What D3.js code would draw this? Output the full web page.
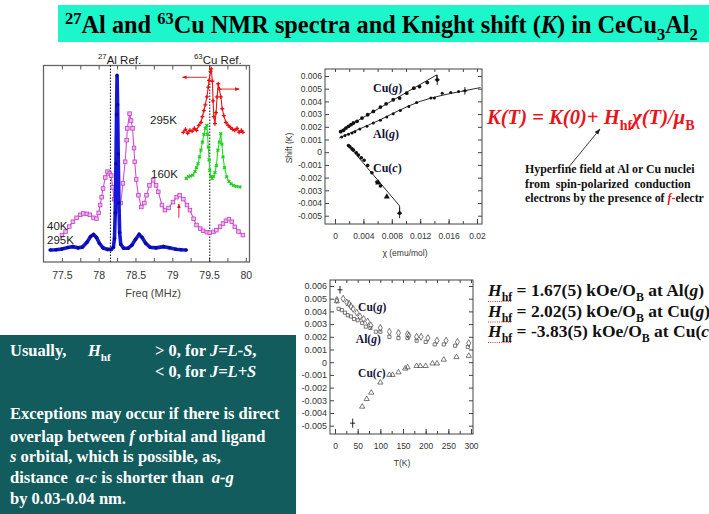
<!DOCTYPE html>
<html lang="en">
<head>
<meta charset="UTF-8">
<title>NMR CeCu3Al2</title>
<script src="https://d3js.org/d3.v7.min.js"></script>
<style>
  body { margin: 0; background: #fff; }
  svg { display: block; }
  text { white-space: pre; }
</style>
</head>
<body>
<svg width="709" height="514"></svg>
<script>
// ---------- data : NMR spectra (freq MHz, intensity a.u. 0..100 of panel) ----------
var freqTicks = [77.5, 78, 78.5, 79, 79.5, 80];
var freqMinor = [77.5, 77.75, 78, 78.25, 78.5, 78.75, 79, 79.25, 79.5, 79.75, 80];
var refLines = [78.16, 79.51];

var al295 = [[77.34,6.1],[77.42,6.2],[77.5,6.6],[77.58,7.4],[77.65,7.8],[77.72,7.2],[77.78,7.6],[77.84,10],[77.89,13],
  [77.93,14],[77.97,12.5],[78.01,9.5],[78.06,7.2],[78.12,6.4],[78.17,6.4],[78.2,7.5],[78.215,12],[78.225,25],[78.235,50],
  [78.243,75],[78.25,95],[78.257,80],[78.265,55],[78.275,30],[78.285,15],[78.3,9],[78.34,7],[78.4,7],[78.45,8.5],
  [78.5,11.5],[78.55,14],[78.59,12.5],[78.64,9.5],[78.7,7.5],[78.78,7.2],[78.88,7.8],[78.96,7.2],[79.05,6.5],[79.12,6.2],[79.19,6.1]];

var al40 = [[77.5,13.7],[77.55,15.5],[77.6,18],[77.65,20.5],[77.7,22.5],[77.75,24],[77.79,24.7],[77.84,24.5],[77.88,24],
  [77.93,22.5],[77.97,22],[78.0,25],[78.02,29],[78.04,33],[78.06,37.4],[78.09,43],[78.12,46],[78.15,45],[78.17,44],
  [78.19,38],[78.21,32],[78.24,27],[78.27,26],[78.3,30],[78.33,40],[78.36,51],[78.38,62],[78.39,68],[78.42,75.5],
  [78.44,72],[78.46,68],[78.48,58],[78.49,51],[78.51,42],[78.54,34],[78.58,28],[78.62,30],[78.65,34],[78.69,39],
  [78.74,41.6],[78.78,39],[78.81,35.7],[78.86,29],[78.9,26.4],[78.95,27.5],[79.01,30.5],[79.06,33],[79.1,34],
  [79.15,32],[79.2,29],[79.24,26.4],[79.29,22],[79.33,18.8],[79.38,17],[79.42,15.9],[79.47,15.2],[79.51,14.9],
  [79.56,15.3],[79.6,16.2],[79.65,18],[79.69,19.6],[79.73,21],[79.77,21.8],[79.81,20.5],[79.85,17.9],[79.9,15.5],[79.96,13.7]];

var cu295 = [[79.15,66],[79.18,67.5],[79.21,65.5],[79.24,67],[79.27,66.5],[79.3,68],[79.33,67],[79.36,69.5],[79.39,71],
  [79.41,74],[79.43,77],[79.45,80],[79.47,84],[79.49,89],[79.5,92.4],[79.52,97],[79.53,98.3],[79.545,92],[79.555,82],
  [79.565,74],[79.58,70.4],[79.595,76],[79.61,84],[79.625,90.7],[79.64,88],[79.66,84],[79.68,78],[79.7,74.5],[79.73,71],
  [79.76,69.5],[79.79,68.5],[79.82,67.5],[79.85,67],[79.88,68],[79.91,66],[79.94,67],[79.96,66]];

var cu160 = [[79.19,42.5],[79.22,43.5],[79.25,43.8],[79.28,44.2],[79.31,46],[79.33,48],[79.35,50],[79.37,53.5],[79.39,57],
  [79.41,61],[79.43,65],[79.45,68],[79.47,69.5],[79.48,65],[79.49,58.5],[79.5,52],[79.51,46.7],[79.525,43.5],[79.54,42.5],
  [79.56,43.5],[79.58,45.5],[79.6,49],[79.62,56.9],[79.64,61],[79.66,65.3],[79.675,60],[79.69,53.5],[79.71,48],
  [79.74,43.3],[79.77,41],[79.8,39.8],[79.83,39],[79.87,38.5],[79.92,38.2]];

// ---------- data : Knight shift vs chi ----------
var chiTicks = [0, 0.004, 0.008, 0.012, 0.016, 0.02];
var chiMinor = [0, 0.002, 0.004, 0.006, 0.008, 0.01, 0.012, 0.014, 0.016, 0.018, 0.02];
var shiftTicks = [-0.005, -0.004, -0.003, -0.002, -0.001, 0, 0.001, 0.002, 0.003, 0.004, 0.005, 0.006];

var cuGchi = [[0.0008,0.00162],[0.0012,0.00172],[0.00155,0.0019],[0.0019,0.00204],[0.00226,0.00217],[0.0026,0.0023],
  [0.0031,0.00243],[0.0038,0.00269],[0.0046,0.00295],[0.0054,0.00321],[0.0064,0.00355],[0.0072,0.00381],[0.0082,0.00413],
  [0.0091,0.00426],[0.0101,0.00465],[0.0111,0.00504],[0.0119,0.00517],[0.013,0.00548],[0.0144,0.0057]];
var cuGfit = [[0.0006,0.00164],[0.0143,0.00608],[0.0144,0.0057]];

var alGchi = [[0.00094,0.0012],[0.0014,0.00131],[0.0019,0.00141],[0.0024,0.00151],[0.0028,0.00162],[0.0035,0.00183],
  [0.0045,0.00204],[0.0054,0.0023],[0.0064,0.00251],[0.0073,0.00277],[0.0082,0.00303],[0.0092,0.00329],[0.0104,0.0036],
  [0.0115,0.00392],[0.0135,0.00426],[0.014,0.00426],[0.0151,0.00465],[0.0163,0.0047],[0.0174,0.00478],[0.0183,0.00483]];
var alGfit = [[0.0006,0.00112],[0.003,0.00172],[0.0064,0.00256],[0.0092,0.00334],[0.012,0.004],[0.0148,0.00444],
  [0.0177,0.00478],[0.0205,0.00509]];

var cuCchi = [[0.0019,0.00052],[0.0021,0.00042],[0.0024,0.00026],[0.0026,0.00016],[0.003,-0.00005],[0.0033,-0.00023],
  [0.0037,-0.00044],[0.0041,-0.00063],[0.0046,-0.00104],[0.0052,-0.00162],[0.0059,-0.00235],[0.0064,-0.00266],[0.0091,-0.0048]];
var cuCtri = [[0.0061,-0.0024],[0.0073,-0.0035]];
var cuCfit = [[0.0019,0.00052],[0.0091,-0.00423],[0.0091,-0.0048]];
var chiErr = [[0.0144,0.0057,0.0004],[0.0183,0.00483,0.0003],[0.0091,-0.0048,0.0004]];

// ---------- data : Knight shift vs T ----------
var tTicks = [0, 50, 100, 150, 200, 250, 300];
var tMinor = [0, 25, 50, 75, 100, 125, 150, 175, 200, 225, 250, 275, 300];

var cuGt = [[4,0.0049],[18,0.005],[26,0.0047],[31,0.0046],[35,0.0044],[40,0.0042],[48,0.0039],[55,0.0036],[63,0.0034],
  [72,0.0032],[79,0.0029],[100,0.0027],[120,0.0024],[140,0.0023],[160,0.0022],[163,0.0021],[180,0.002],[190,0.002],
  [205,0.0019],[225,0.0017],[245,0.0017],[270,0.0016],[295,0.0015]];
var alGt = [[8,0.0042],[15,0.0041],[22,0.0039],[28,0.0037],[35,0.0036],[42,0.0034],[50,0.0033],[60,0.0031],[68,0.0028],
  [78,0.0027],[90,0.0024],[100,0.0024],[120,0.002],[140,0.0019],[160,0.0019],[180,0.0017],[200,0.0016],[220,0.0014],
  [240,0.0014],[265,0.0013],[293,0.0012]];
var cuCt = [[4,0.0048],[60,-0.0035],[70,-0.0029],[80,-0.0024],[100,-0.0016],[120,-0.001],[127,-0.001],[140,-0.0008],
  [155,-0.0005],[160,-0.0004],[180,-0.0003],[188,-0.0003],[200,-0.0003],[215,-0.0001],[225,-0.0001],[240,0.0002],
  [268,0.0004],[295,0.0005]];
var tErr = [[11,0.0057,0.0003],[39,-0.0048,0.00036]];

// ---------- helpers ----------
var svg = d3.select('svg');
var SANS = 'Liberation Sans, Arial, sans-serif';
var SERIF = 'Liberation Serif, Times New Roman, serif';

// text made of pieces: strings or {t, sub, sup, it, fill, x}
function rich(parent, x, y, parts, o) {
  var t = parent.append('text').attr('x', x).attr('y', y)
    .attr('font-family', o.family).attr('font-size', o.size)
    .attr('font-weight', o.weight || 'normal').attr('fill', o.fill || '#000');
  if (o.italic) t.attr('font-style', 'italic');
  var shift = 0;
  parts.forEach(function (p) {
    if (typeof p === 'string') p = { t: p };
    var target = p.sub ? o.size * 0.3 : (p.sup ? -o.size * 0.38 : 0);
    var ts = t.append('tspan').text(p.t);
    if (target - shift !== 0) ts.attr('dy', target - shift);
    shift = target;
    if (p.sub || p.sup) ts.attr('font-size', o.size * 0.68);
    if (p.it) ts.attr('font-style', 'italic');
    if (p.up) ts.attr('font-style', 'normal');
    if (p.fill) ts.attr('fill', p.fill);
    if (p.x != null) ts.attr('x', p.x);
  });
  return t;
}

function frame(g, x0, y0, x1, y1, col, w) {
  g.append('rect').attr('x', x0).attr('y', y0).attr('width', x1 - x0).attr('height', y1 - y0)
    .attr('fill', 'none').attr('stroke', col).attr('stroke-width', w);
}

var defs = svg.append('defs');
defs.append('marker').attr('id', 'redArrow').attr('viewBox', '0 0 10 10').attr('refX', 9).attr('refY', 5)
  .attr('markerWidth', 5).attr('markerHeight', 5).attr('orient', 'auto')
  .append('path').attr('d', 'M0,1 L10,5 L0,9 z').attr('fill', '#e01010');
defs.append('marker').attr('id', 'blkArrow').attr('viewBox', '0 0 10 10').attr('refX', 9).attr('refY', 5)
  .attr('markerWidth', 7).attr('markerHeight', 7).attr('orient', 'auto')
  .append('path').attr('d', 'M0,1.5 L10,5 L0,8.5 z').attr('fill', '#222');

// ---------- title ----------
svg.append('rect').attr('x', 58).attr('y', 5).attr('width', 651).attr('height', 37).attr('fill', '#1df5cb');
rich(svg, 65, 33, [{ t: '27', sup: true }, 'Al and ', { t: '63', sup: true }, 'Cu NMR spectra and Knight shift (',
  { t: 'K', it: true }, ') in CeCu', { t: '3', sub: true }, 'Al', { t: '2', sub: true }],
  { family: SERIF, size: 24.3, weight: 'bold' });

// ---------- left panel: spectra ----------
var L = { x0: 43.5, x1: 249.5, y0: 65.5, y1: 262 };
var xF = d3.scaleLinear().domain([77.25, 80.05]).range([L.x0, L.x1]);
var yI = d3.scaleLinear().domain([0, 100]).range([L.y1, L.y0]);
var gL = svg.append('g');

gL.append('g').attr('transform', 'translate(0,' + L.y1 + ')')
  .call(d3.axisBottom(xF).tickValues(freqMinor).tickSize(-4).tickFormat(''))
  .call(function (a) { a.select('.domain').remove(); a.selectAll('line').attr('stroke', '#555'); });
gL.append('g').attr('transform', 'translate(0,' + L.y0 + ')')
  .call(d3.axisTop(xF).tickValues(freqMinor).tickSize(-4).tickFormat(''))
  .call(function (a) { a.select('.domain').remove(); a.selectAll('line').attr('stroke', '#555'); });
gL.append('g').attr('transform', 'translate(0,' + L.y1 + ')')
  .call(d3.axisBottom(xF).tickValues(freqTicks).tickSize(0).tickPadding(10).tickFormat(d3.format('')))
  .call(function (a) {
    a.select('.domain').remove();
    a.selectAll('text').attr('font-family', SANS).attr('font-size', 10.5).attr('fill', '#333');
  });
frame(gL, L.x0, L.y0, L.x1, L.y1, '#666', 1.3);
gL.append('text').attr('x', 153).attr('y', 297).attr('text-anchor', 'middle')
  .attr('font-family', SANS).attr('font-size', 11).attr('fill', '#444').text('Freq (MHz)');

gL.selectAll('.ref').data(refLines).enter().append('line')
  .attr('x1', function (d) { return xF(d); }).attr('x2', function (d) { return xF(d); })
  .attr('y1', L.y0).attr('y2', L.y1).attr('stroke', '#222').attr('stroke-width', 1.1).attr('stroke-dasharray', '1.5,1.5');

var line = d3.line().x(function (d) { return xF(d[0]); }).y(function (d) { return yI(d[1]); });

// magenta 40K Al
gL.append('path').datum(al40).attr('d', line).attr('fill', 'none').attr('stroke', '#d050d0').attr('stroke-width', 1.1);
gL.selectAll('.msq').data(al40).enter().append('rect')
  .attr('x', function (d) { return xF(d[0]) - 1.8; }).attr('y', function (d) { return yI(d[1]) - 1.8; })
  .attr('width', 3.6).attr('height', 3.6).attr('fill', '#f0b8f0').attr('stroke', '#c040c0').attr('stroke-width', 0.8);

// blue 295K Al
gL.append('path').datum(al295).attr('d', line).attr('fill', 'none').attr('stroke', '#1616d6').attr('stroke-width', 3.6);
gL.selectAll('.bdot').data(al295).enter().append('circle')
  .attr('cx', function (d) { return xF(d[0]); }).attr('cy', function (d) { return yI(d[1]); })
  .attr('r', 1.8).attr('fill', '#0a0aa0');

// red 295K Cu
gL.append('path').datum(cu295).attr('d', line).attr('fill', 'none').attr('stroke', '#e81212').attr('stroke-width', 1.1);
gL.selectAll('.rp').data(cu295).enter().append('path')
  .attr('transform', function (d) { return 'translate(' + xF(d[0]) + ',' + yI(d[1]) + ')'; })
  .attr('d', d3.symbol().type(d3.symbolCross).size(9)).attr('fill', '#e81212');

// green 160K Cu
gL.append('path').datum(cu160).attr('d', line).attr('fill', 'none').attr('stroke', '#22dd22').attr('stroke-width', 1.1);
gL.selectAll('.gp').data(cu160).enter().append('path')
  .attr('transform', function (d) { return 'translate(' + xF(d[0]) + ',' + yI(d[1]) + ') rotate(45)'; })
  .attr('d', d3.symbol().type(d3.symbolCross).size(9)).attr('fill', '#1fcf1f');

// arrows
function arrow(g, a, b, id, w) {
  g.append('line').attr('x1', a[0]).attr('y1', a[1]).attr('x2', b[0]).attr('y2', b[1])
    .attr('stroke', id === 'redArrow' ? '#e01010' : '#222').attr('stroke-width', w)
    .attr('marker-end', 'url(#' + id + ')');
}
arrow(gL, [xF(79.47), yI(94)], [xF(79.14), yI(94)], 'redArrow', 0.9);
arrow(gL, [xF(79.65), yI(88)], [xF(79.91), yI(88)], 'redArrow', 0.9);
arrow(gL, [xF(79.09), yI(22.5)], [xF(79.09), yI(29.5)], 'redArrow', 0.9);

// labels
var lab = { family: SANS, size: 11.5, fill: '#222' };
rich(gL, 98, 63.5, [{ t: '27', sup: true }, 'Al Ref.'], lab);
rich(gL, 194, 63.5, [{ t: '63', sup: true }, 'Cu Ref.'], lab);
rich(gL, 150, 124, ['295K'], lab);
rich(gL, 151, 178, ['160K'], lab);
rich(gL, 47, 230, ['40K'], lab);
rich(gL, 47, 244, ['295K'], lab);

// ---------- generic small frame plot ----------
function panel(box, xs, ys, xTicksMaj, xTicksMin, yTicks, yFont) {
  var g = svg.append('g');
  var tickStyle = function (a) { a.select('.domain').remove(); a.selectAll('line').attr('stroke', '#444'); };
  g.append('g').attr('transform', 'translate(0,' + box.y1 + ')')
    .call(d3.axisBottom(xs).tickValues(xTicksMin).tickSize(-3).tickFormat('')).call(tickStyle);
  g.append('g').attr('transform', 'translate(0,' + box.y0 + ')')
    .call(d3.axisTop(xs).tickValues(xTicksMin).tickSize(-3).tickFormat('')).call(tickStyle);
  g.append('g').attr('transform', 'translate(0,' + box.y1 + ')')
    .call(d3.axisBottom(xs).tickValues(xTicksMaj).tickSize(-5).tickPadding(9)
      .tickFormat(function (d) { return String(+d.toFixed(3)); }))
    .call(tickStyle)
    .call(function (a) { a.selectAll('text').attr('font-family', SANS).attr('font-size', 8.5).attr('fill', '#333'); });
  g.append('g').attr('transform', 'translate(' + box.x0 + ',0)')
    .call(d3.axisLeft(ys).tickValues(yTicks).tickSize(-4).tickPadding(box.pad)
      .tickFormat(function (d) { return String(+d.toFixed(3)); }))
    .call(tickStyle)
    .call(function (a) { a.selectAll('text').attr('font-family', SANS).attr('font-size', yFont).attr('fill', '#333'); });
  g.append('g').attr('transform', 'translate(' + box.x1 + ',0)')
    .call(d3.axisRight(ys).tickValues(yTicks).tickSize(-4).tickFormat('')).call(tickStyle);
  frame(g, box.x0, box.y0, box.x1, box.y1, '#444', 1);
  return g;
}

// ---------- upper right: K vs chi ----------
var U = { x0: 325, x1: 482, y0: 69, y1: 224, pad: 3 };
var xC = d3.scaleLinear().domain([0, 0.02]).range([335, 477]);
var yK = d3.scaleLinear().domain([-0.005, 0.006]).range([215.7, 76]);
var gU = panel(U, xC, yK, chiTicks, chiMinor, shiftTicks, 8.5);

var lineC = d3.line().x(function (d) { return xC(d[0]); }).y(function (d) { return yK(d[1]); });
[cuGfit, cuCfit].forEach(function (f) {
  gU.append('path').datum(f).attr('d', lineC).attr('fill', 'none').attr('stroke', '#111').attr('stroke-width', 0.9);
});
gU.append('path').datum(alGfit).attr('d', lineC.curve(d3.curveMonotoneX)).attr('fill', 'none')
  .attr('stroke', '#111').attr('stroke-width', 0.9);
lineC.curve(d3.curveLinear);

function dots(g, data, xs, ys, r) {
  g.append('g').selectAll('circle').data(data).enter().append('circle')
    .attr('cx', function (d) { return xs(d[0]); }).attr('cy', function (d) { return ys(d[1]); })
    .attr('r', r).attr('fill', '#111');
}
dots(gU, cuGchi, xC, yK, 1.9);
dots(gU, alGchi, xC, yK, 1.5);
dots(gU, cuCchi, xC, yK, 1.8);
gU.append('g').selectAll('path').data(cuCtri).enter().append('path')
  .attr('transform', function (d) { return 'translate(' + xC(d[0]) + ',' + yK(d[1]) + ')'; })
  .attr('d', d3.symbol().type(d3.symbolTriangle).size(16)).attr('fill', '#111');

function errs(g, data, xs, ys) {
  data.forEach(function (e) {
    var x = xs(e[0]);
    g.append('line').attr('x1', x).attr('x2', x).attr('y1', ys(e[1] - e[2])).attr('y2', ys(e[1] + e[2]))
      .attr('stroke', '#111').attr('stroke-width', 0.9);
    g.append('line').attr('x1', x - 2.5).attr('x2', x + 2.5).attr('y1', ys(e[1])).attr('y2', ys(e[1]))
      .attr('stroke', '#111').attr('stroke-width', 0.9);
  });
}
errs(gU, chiErr, xC, yK);

gU.append('text').attr('transform', 'translate(292,148) rotate(-90)').attr('text-anchor', 'middle')
  .attr('font-family', SANS).attr('font-size', 8.5).attr('fill', '#333').text('Shift (K)');
gU.append('text').attr('x', 405).attr('y', 256).attr('text-anchor', 'middle')
  .attr('font-family', SANS).attr('font-size', 8.5).attr('fill', '#333').text('\u03c7 (emu/mol)');

var serLab = { family: SERIF, size: 12, weight: 'bold', fill: '#141438' };
rich(gU, xC(0.00535), yK(0.00475), ['Cu(', { t: 'g', it: true }, ')'], serLab);
rich(gU, xC(0.00535), yK(0.00115), ['Al(', { t: 'g', it: true }, ')'], serLab);
rich(gU, xC(0.00535), yK(-0.00159), ['Cu(', { t: 'c', it: true }, ')'], serLab);

// ---------- lower right: K vs T ----------
var B = { x0: 330, x1: 473, y0: 280, y1: 434, pad: 3 };
var xT = d3.scaleLinear().domain([0, 300]).range([335, 471]);
var yK2 = d3.scaleLinear().domain([-0.005, 0.006]).range([425.7, 286]);
var gB = panel(B, xT, yK2, tTicks, tMinor, shiftTicks, 9);

function open(g, data, type, size) {
  g.append('g').selectAll('path').data(data).enter().append('path')
    .attr('transform', function (d) { return 'translate(' + xT(d[0]) + ',' + yK2(d[1]) + ')'; })
    .attr('d', d3.symbol().type(type).size(size)).attr('fill', 'none')
    .attr('stroke', '#555').attr('stroke-width', 0.8);
}
open(gB, cuGt, d3.symbolDiamond, 14);
open(gB, alGt, d3.symbolSquare, 10);
open(gB, cuCt, d3.symbolTriangle, 12);
errs(gB, tErr, xT, yK2);

gB.append('text').attr('x', 402).attr('y', 466).attr('text-anchor', 'middle')
  .attr('font-family', SANS).attr('font-size', 8.5).attr('fill', '#333').text('T(K)');
var serLab2 = { family: SERIF, size: 11.5, weight: 'bold', fill: '#141438' };
rich(gB, xT(51), yK2(0.004), ['Cu(', { t: 'g', it: true }, ')'], serLab2);
rich(gB, xT(46), yK2(0.00155), ['Al(', { t: 'g', it: true }, ')'], serLab2);
rich(gB, xT(51), yK2(-0.0012), ['Cu(', { t: 'c', it: true }, ')'], serLab2);

// ---------- formula and notes ----------
rich(svg, 487, 124, [{ t: 'K(T)', it: true }, ' = ', { t: 'K(0)+ H', it: true }, { t: 'hf', sub: true, up: true },
  { t: '\u03c7(T)/\u03bc', it: true }, { t: 'B', sub: true, up: true }],
  { family: SERIF, size: 20.6, weight: 'bold', fill: '#e8141c' });
arrow(svg, [568, 168], [600, 129], 'blkArrow', 0.9);

var note = { family: SERIF, size: 11.9, weight: 'bold', fill: '#111' };
rich(svg, 525, 173, ['Hyperfine field at Al or Cu nuclei'], note);
rich(svg, 525, 187.5, ['from  spin-polarized  conduction'], note);
rich(svg, 525, 202, ['electrons by the presence of ', { t: 'f', it: true, fill: '#e8141c' }, { t: '-', fill: '#e8141c' }, 'electr'], note);

var hfVals = [['1.67(5)', 'Al(', 'g'], ['2.02(5)', 'Cu(', 'g'], ['-3.83(5)', 'Cu(', 'c']];
var hfY = [296, 316.5, 337];
var hfStyle = { family: SERIF, size: 17.5, weight: 'bold', fill: '#111' };
hfVals.forEach(function (v, i) {
  rich(svg, 488, hfY[i], [{ t: 'H', it: true }, { t: 'hf', sub: true }, ' = ' + v[0] + ' kOe/O', { t: 'B', sub: true },
    ' at ' + v[1], { t: v[2], it: true }, ')'], hfStyle);
  svg.append('line').attr('x1', 488).attr('x2', 512).attr('y1', hfY[i] + 5.5).attr('y2', hfY[i] + 5.5)
    .attr('stroke', '#e03030').attr('stroke-width', 1).attr('stroke-dasharray', '1,1.2');
});

// ---------- teal box ----------
var gBox = svg.append('g');
defs.append('clipPath').attr('id', 'boxClip').append('rect').attr('x', 0).attr('y', 335).attr('width', 296).attr('height', 179);
gBox.append('rect').attr('x', 0).attr('y', 335).attr('width', 296).attr('height', 179).attr('fill', '#135c5d');
var gTxt = gBox.append('g').attr('clip-path', 'url(#boxClip)');
var boxStyle = { family: SERIF, size: 16.5, weight: 'bold', fill: '#fff' };
rich(gTxt, 10, 356, ['Usually,', { t: 'H', it: true, x: 88 }, { t: 'hf', sub: true }, { t: '> 0, for ', x: 155 },
  { t: 'J=L-S', it: true }, ','], boxStyle);
rich(gTxt, 155, 377, ['< 0, for ', { t: 'J=L+S', it: true }], boxStyle);
rich(gTxt, 10, 419, ['Exceptions may occur if there is direct'], boxStyle);
rich(gTxt, 10, 441.5, ['overlap between ', { t: 'f', it: true }, ' orbital and ligand'], boxStyle);
rich(gTxt, 10, 462, [{ t: 's', it: true }, ' orbital, which is possible, as,'], boxStyle);
rich(gTxt, 10, 482.5, ['distance  ', { t: 'a-c', it: true }, ' is shorter than  ', { t: 'a-g', it: true }], boxStyle);
rich(gTxt, 10, 503.5, ['by 0.03-0.04 nm.'], boxStyle);
</script>
</body>
</html>
